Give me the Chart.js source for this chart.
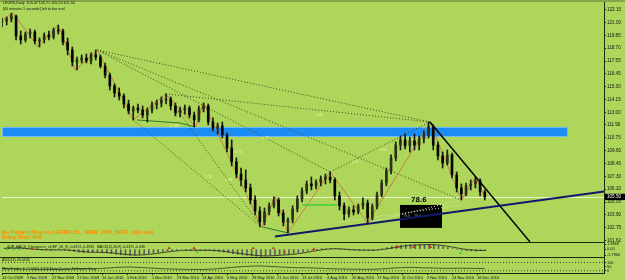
<!DOCTYPE html>
<html><head><meta charset="utf-8">
<script src="https://cdn.jsdelivr.net/npm/chart.js@4.4.1/dist/chart.umd.min.js"></script>
<style>
html,body{margin:0;padding:0;background:#add65a;width:625px;height:280px;overflow:hidden;}
#wrap{position:relative;width:625px;height:280px;overflow:hidden;}
#topbar{position:absolute;left:0;top:0;width:625px;height:2px;background:#86a34c;}
canvas{position:absolute;left:0;}
</style></head><body>
<div id="wrap">
<div id="topbar"></div>
<canvas id="cMain" width="625" height="252" style="top:-4px"></canvas>
<canvas id="cMacd" width="625" height="23" style="top:238px"></canvas>
<canvas id="cAdx" width="625" height="27" style="top:253px"></canvas>
</div>
<script>
// ---------- data ----------
const dateLabels = ['14 Oct 2009','5 Nov 2009','27 Nov 2009','21 Dec 2009','14 Jan 2010','5 Feb 2010','1 Mar 2010','23 Mar 2010','14 Apr 2010','6 May 2010','28 May 2010','21 Jun 2010','13 Jul 2010','4 Aug 2010','26 Aug 2010','17 Sep 2010','11 Oct 2010','2 Nov 2010','24 Nov 2010','16 Dec 2010'];
const dateTickBars = [0,16,32,48,64,80,96,112,128,144,160,176,192,208,224,240,256,272,288,304];
const priceTicks = [101.62,102.75,103.90,105.05,106.20,107.30,108.45,109.60,110.75,111.90,113.00,114.15,115.30,116.45,117.55,118.70,119.85,121.00,122.15];
const priceTickLabels = ['101.62','102.75','103.90','105.05','106.20','107.30','108.45','109.60','110.75','111.90','113.00','114.15','115.30','116.45','117.55','118.70','119.85','121.00','122.15'];
const lastPrice = 105.50;

const candleBar = [0,3,6,9,12,15,18,21,24,27,30,33,36,39,42,45,48,51,54,57,60,63,66,69,72,75,78,81,84,87,90,93,96,99,102,105,108,111,114,117,120,123,126,129,132,135,138,141,144,147,150,153,156,159,162,165,168,171,174,177,180,183,186,189,192,195,198,201,204,207,210,213,216,219,222,225,228,231,234,237,240,243,246,249,252,255,258,261,264,267,270,273,276,279,282,285,288,291,294,297,300,303,306,309];
const openP = [121.03,121.11,121.29,121.56,119.78,119.43,119.96,120.14,119.34,119.43,
119.87,119.69,120.32,120.23,119.25,118.54,117.48,117.65,117.83,117.57,
118.10,117.92,117.12,116.32,115.35,114.73,114.46,113.75,113.13,113.40,
113.22,112.77,113.22,113.66,113.84,114.10,114.19,113.57,112.95,113.22,
113.40,112.77,112.33,113.31,113.57,112.15,111.62,111.80,111.00,109.85,
108.61,107.54,107.01,106.30,105.23,104.26,103.28,104.17,104.71,105.23,
104.08,103.28,103.46,104.43,105.32,106.03,106.65,106.48,106.83,107.10,
107.27,107.01,105.59,104.71,103.99,104.35,104.17,104.71,104.97,103.64,
104.62,105.68,106.74,107.81,108.96,110.11,110.56,110.03,110.47,110.11,
110.65,111.00,111.71,110.11,109.14,108.51,109.23,107.45,106.30,105.77,
106.48,106.65,106.92,105.94];
const highP = [121.38,121.47,121.82,121.65,120.23,120.14,120.40,120.32,119.61,120.05,
120.23,120.49,120.76,120.40,119.61,118.81,117.92,118.10,118.19,118.28,
118.54,118.10,117.39,116.50,115.53,115.17,114.64,114.10,113.57,113.75,
113.57,113.40,113.93,114.10,114.37,114.64,114.37,113.84,113.48,113.66,
113.57,113.04,113.57,113.84,113.75,112.51,112.06,112.15,111.18,110.56,
108.96,108.07,107.90,106.65,105.59,104.62,104.52,104.97,105.50,105.41,
104.35,103.64,104.71,105.59,106.30,106.92,107.27,107.01,107.36,107.54,
107.72,107.19,105.94,104.97,104.62,104.71,104.88,105.41,105.23,104.88,
105.94,107.01,108.07,109.23,110.38,110.91,111.09,110.82,111.09,110.91,
111.36,112.15,111.89,110.38,109.49,109.67,109.40,107.72,106.65,106.74,
107.01,107.27,107.10,106.12];
const lowP = [120.58,120.76,121.03,119.43,119.07,119.25,119.61,119.07,118.81,119.16,
119.43,119.52,119.96,118.99,118.10,117.12,116.77,117.39,117.39,117.30,
117.65,116.94,116.06,114.99,114.37,114.10,113.40,112.86,112.33,112.95,
112.51,112.15,112.95,113.31,113.48,113.75,113.22,112.68,112.60,112.86,
112.51,111.71,112.15,113.04,111.89,111.36,111.09,110.73,109.49,108.25,
107.19,106.48,105.94,104.88,103.90,102.84,103.01,103.90,104.52,103.81,
102.93,102.31,103.19,104.17,105.06,105.77,106.12,106.21,106.48,106.65,
106.74,105.23,104.35,103.46,103.73,103.90,103.99,104.43,103.19,103.46,
104.43,105.50,106.48,107.54,108.70,109.67,109.76,109.49,109.67,109.67,
110.29,110.73,109.67,108.78,108.07,108.34,107.19,105.94,105.23,105.59,
106.12,106.30,105.59,105.23];
const closeP = [121.11,121.29,121.56,119.78,119.43,119.96,120.14,119.34,119.43,119.87,
119.69,120.32,120.23,119.25,118.54,117.48,117.65,117.83,117.57,118.10,
117.92,117.12,116.32,115.35,114.73,114.46,113.75,113.13,113.40,113.22,
112.77,113.22,113.66,113.84,114.10,114.19,113.57,112.95,113.22,113.40,
112.77,112.33,113.31,113.57,112.15,111.62,111.80,111.00,109.85,108.61,
107.54,107.01,106.30,105.23,104.26,103.28,104.17,104.71,105.23,104.08,
103.28,103.46,104.43,105.32,106.03,106.65,106.48,106.83,107.10,107.27,
107.01,105.59,104.71,103.99,104.35,104.17,104.71,104.97,103.64,104.62,
105.68,106.74,107.81,108.96,110.11,110.56,110.03,110.47,110.11,110.65,
111.00,111.71,110.11,109.14,108.51,109.23,107.45,106.30,105.77,106.48,
106.65,106.92,105.94,105.50];

// ZUP zigzag (bar index, price)
const zigBars = [0,7,23,36,47,61,84,105,124,129,166,175,183,210,234,274,294,303,309];
const zigPrices = [121.20,121.82,118.81,120.76,116.77,118.54,112.33,114.64,111.71,113.84,102.84,105.50,102.31,107.72,103.19,112.15,105.23,107.27,105.50];
// pattern lines [bar1, price1, bar2, price2]
const zupLines = [[61,118.54,273.9,112.15],[105,114.64,273.9,112.15],[61,118.54,293.8,105.23],[61,118.54,210,107.72],[210,107.72,273.9,112.15],[84,112.33,166,102.84],[105,114.64,166,102.84]];
const paleLines = [[216.3,103.28,294.4,104.79],[233.6,103.19,293.8,105.23]];
const greenBars = [86.4,113.9,123.5];
const greenPrices = [112.33,112.06,111.71];
const greenLow = [166.4,102.84,183,102.31];
const greenLevel = [192,104.79,214.4,104.79];
const supportLine = [174.7,101.98,385.28,105.98];
const resistLine = [273.9,112.15,337.9,101.51];
const supplyBand = {fromBar:0, toBar:362.2, top:111.71, bottom:110.82};
const retraceBox = {fromBar:254.7, toBar:281.6, top:104.79, bottom:102.75};
const retraceLabel = {text:'78.6', bar:261.8, price:105.23};
const fibText = ['0.786','1.26','0.68','0.74','0.45','0.68','0.81','0.62'];
const fibBar = [107.5,129.9,142.7,149.1,166.4,200.3,224,241.9];
const fibPrice = [111.80,107.27,107.01,109.49,110.73,112.77,108.61,109.67];

// MACD
const macdHist = [0.30,0.40,0.30,0.20,0.10,0.00,-0.10,-0.20,-0.30,-0.30,-0.30,-0.20,-0.20,
-0.35,-0.50,-0.70,-0.90,-1.00,-1.00,-0.95,-0.90,-0.95,-1.10,-1.30,-1.50,-1.65,-1.75,-1.80,-1.75,
-1.60,-1.45,-1.30,-1.10,-0.90,-0.70,-0.50,-0.40,-0.35,-0.30,-0.30,-0.35,-0.40,-0.35,-0.30,
-0.40,-0.55,-0.70,-0.85,-1.05,-1.30,-1.50,-1.70,-1.85,-1.95,-2.05,-2.10,-2.00,-1.90,-1.75,-1.60,-1.55,-1.50,
-1.30,-1.05,-0.80,-0.55,-0.30,-0.10,0.05,0.15,0.20,0.10,-0.05,-0.20,-0.30,-0.35,-0.35,-0.30,-0.35,-0.30,
-0.10,0.15,0.45,0.75,1.00,1.15,1.25,1.30,1.30,1.30,1.30,1.35,1.20,0.95,0.70,0.45,0.15,
-0.15,-0.35,-0.45,-0.50,-0.50,-0.48,-0.44];
const macdSignal = [0.20,0.25,0.30,0.30,0.25,0.15,0.05,-0.05,-0.15,-0.20,-0.25,-0.25,-0.22,
-0.25,-0.30,-0.45,-0.60,-0.75,-0.85,-0.92,-0.93,-0.95,-1.00,-1.10,-1.25,-1.40,-1.55,-1.65,
-1.72,-1.72,-1.65,-1.52,-1.38,-1.20,-1.00,-0.82,-0.65,-0.52,-0.42,-0.35,-0.33,
-0.35,-0.36,-0.35,-0.36,-0.42,-0.52,-0.65,-0.80,-0.98,-1.18,-1.38,-1.55,-1.70,-1.83,-1.93,
-1.98,-1.97,-1.90,-1.80,-1.70,-1.62,-1.50,-1.33,-1.12,-0.90,-0.66,-0.42,-0.22,-0.06,0.06,
0.10,0.07,-0.02,-0.12,-0.22,-0.28,-0.30,-0.32,-0.32,
-0.25,-0.12,0.08,0.30,0.55,0.78,0.95,1.08,1.17,1.23,1.27,1.30,
1.28,1.18,1.02,0.82,0.58,0.32,0.08,-0.10,-0.24,-0.34,-0.40,-0.43];
const macdUpBars = [2,6,10,114,124,293];
const macdUpVals = [0.03,0.03,0.03,-0.26,-0.84,-1.13];
const macdDnBars = [18,106,122,160,173,180,199,253,263,274];
const macdDnVals = [0.03,0.31,0.31,0.31,0.31,-0.84,0.03,0.60,0.60,0.60];
const macdTicks = [-1.796,0,1.3848];
const macdTickLabels = ['-1.7960','0.00','1.3848'];

// ADX
const adxVals = [30,28,26,24,22,20,19,18,17,17,16,16,17,
18,20,23,26,27,27,26,26,28,31,35,39,42,44,45,
44,41,38,35,32,29,26,24,22,20,19,18,17,
17,16,16,18,21,25,30,35,40,45,49,52,55,57,58,
56,53,50,47,44,41,38,37,37,36,34,32,30,28,26,
24,22,21,20,19,19,18,18,18,
20,23,27,31,35,38,40,41,40,38,36,35,
33,31,30,29,30,31,31,30,29,28,27,26];
const adxLevels = [100,0];
const adxTicks = [0,50,100];
const adxTickLabels = ['0','50','100'];

// ---------- helpers ----------
const FONT = 'Liberation Sans';
const AXIS_COL = '#1e2a10';
const X_MIN = 0, X_MAX = 385.28;
function seg(s, color, width, dash, order){
  return {type:'line', data:[{x:s[0],y:s[1]},{x:s[2],y:s[3]}], borderColor:color, borderWidth:width,
    borderDash:dash||[], pointRadius:0, fill:false, tension:0, order:order};
}
function rightAxis(min, max, ticks, labels, size){
  return {type:'linear', position:'right', min:min, max:max,
    afterFit:s=>{s.width=21;},
    afterBuildTicks:s=>{s.ticks=ticks.map(v=>({value:v}));},
    ticks:{autoSkip:false, padding:1, color:'#111', font:{family:FONT, size:size}, callback:(v,i)=>labels[i]},
    grid:{drawOnChartArea:false, tickLength:2, color:AXIS_COL},
    border:{display:true, color:AXIS_COL, width:1}};
}
const hiddenX = {type:'linear', min:X_MIN, max:X_MAX, display:false, offset:false};
const baseOpts = {responsive:false, animation:false, devicePixelRatio:1, events:[],
  plugins:{legend:{display:false}, tooltip:{enabled:false}}};

// ---------- main pane ----------
const mainDecor = {
  id:'mainDecor',
  beforeDatasetsDraw(chart){
    const {ctx, chartArea:a, scales:{x, y}} = chart;
    ctx.save();
    ctx.beginPath(); ctx.rect(a.left, a.top, a.right-a.left, a.bottom-a.top); ctx.clip();
    const bx0 = x.getPixelForValue(supplyBand.fromBar), bx1 = x.getPixelForValue(supplyBand.toBar);
    const by0 = y.getPixelForValue(supplyBand.top), by1 = y.getPixelForValue(supplyBand.bottom);
    ctx.fillStyle = '#1c8cf5'; ctx.fillRect(bx0, by0, bx1-bx0, by1-by0);
    ctx.strokeStyle = '#72bcf6'; ctx.lineWidth = 1;
    ctx.strokeRect(bx0+0.5, by0+0.5, bx1-bx0-1, by1-by0-1);
    const yb = Math.round(y.getPixelForValue(lastPrice))+0.5;
    ctx.strokeStyle = '#e4f2cc'; ctx.beginPath(); ctx.moveTo(a.left, yb); ctx.lineTo(a.right, yb); ctx.stroke();
    const rx0 = x.getPixelForValue(retraceBox.fromBar), rx1 = x.getPixelForValue(retraceBox.toBar);
    const ry0 = y.getPixelForValue(retraceBox.top), ry1 = y.getPixelForValue(retraceBox.bottom);
    ctx.fillStyle = '#000'; ctx.fillRect(rx0, ry0, rx1-rx0, ry1-ry0);
    ctx.fillStyle = '#8c8c8c'; ctx.font = '3.6px "'+FONT+'"'; ctx.textBaseline = 'middle';
    ctx.fillText('78.6    78.6', rx0+3, (ry0+ry1)/2);
    ctx.restore();
  },
  afterDatasetsDraw(chart){
    const {ctx, chartArea:a, scales:{x, y}} = chart;
    ctx.save();
    ctx.textBaseline = 'middle'; ctx.textAlign = 'left';
    ctx.fillStyle = '#eef59a'; ctx.font = '3.6px "'+FONT+'"';
    fibText.forEach((t,i)=>ctx.fillText(t, x.getPixelForValue(fibBar[i]), y.getPixelForValue(fibPrice[i])));
    ctx.fillStyle = '#000'; ctx.font = 'bold 8px "'+FONT+'"';
    ctx.fillText(retraceLabel.text, x.getPixelForValue(retraceLabel.bar), y.getPixelForValue(retraceLabel.price));
    ctx.fillStyle = '#111'; ctx.font = '3.7px "'+FONT+'"';
    ctx.fillText('LEURX,Daily  105.47 105.71 105.23 105.50', a.left+1, a.top+1);
    ctx.fillText('[00 minutes 1 seconds] left to bar end', a.left+1, a.top+6.5);
    ctx.fillStyle = '#ff8a00'; ctx.font = 'bold 5.5px "'+FONT+'"';
    ctx.fillText('No Pattern Now on LEURX D1,  WRR_ZUP_INFO_v02.mq4', a.left, a.top+230.7);
    ctx.fillText('Entry Risk: N/R', a.left, a.top+235.7);
    ctx.restore();
  },
  afterDraw(chart){
    const {ctx, chartArea:a, scales:{y}} = chart;
    const yp = y.getPixelForValue(lastPrice);
    ctx.save();
    ctx.fillStyle = '#000'; ctx.fillRect(a.right+1, yp-3.2, 20, 6.4);
    ctx.fillStyle = '#fff'; ctx.font = '4.6px "'+FONT+'"'; ctx.textBaseline='middle'; ctx.textAlign='left';
    ctx.fillText('105.50', a.right+3, yp);
    ctx.restore();
  }
};

const mainSets = [
  seg(supportLine, '#101a6a', 2, [], 0),
  seg(resistLine, '#000000', 1.5, [], 0),
  {type:'bar', grouped:false, barThickness:2, order:1, borderWidth:0,
   data:candleBar.map((t,i)=>({x:t, y:[openP[i], closeP[i]]})),
   backgroundColor:c=>closeP[c.dataIndex]>=openP[c.dataIndex]?'#2b3018':'#050505'},
  {type:'bar', grouped:false, barThickness:1, order:2, borderWidth:0,
   data:candleBar.map((t,i)=>({x:t, y:[lowP[i], highP[i]]})), backgroundColor:'#1a1a1a'},
  {type:'line', order:3, data:zigBars.map((t,i)=>({x:t, y:zigPrices[i]})), borderColor:'#cc7f3f', borderWidth:1, pointRadius:0, tension:0, fill:false},
  {type:'line', order:3, data:greenBars.map((t,i)=>({x:t, y:greenPrices[i]})), borderColor:'#2d7a2d', borderWidth:1, pointRadius:0, tension:0, fill:false},
  seg(greenLow, '#2d7a2d', 1, [], 3),
  seg(greenLevel, '#3fcf3f', 1.5, [], 3)
].concat(zupLines.map(s=>seg(s, '#3d4a25', 1, [1,2], 4)))
 .concat(paleLines.map(s=>seg(s, '#e2efc2', 1, [1,2], 4)));

new Chart(document.getElementById('cMain'), {
  type:'bar', data:{datasets:mainSets},
  options:Object.assign({}, baseOpts, {
    layout:{padding:{left:2, right:0, top:6, bottom:6}},
    scales:{x:hiddenX, y:rightAxis(101.50, 122.80, priceTicks, priceTickLabels, 4.6)}
  }),
  plugins:[mainDecor]
});

// ---------- MACD pane ----------
const paneDecor = (lines) => ({
  id:'paneDecor',
  afterDraw(chart){
    const {ctx, chartArea:a} = chart;
    ctx.save();
    ctx.strokeStyle = AXIS_COL; ctx.lineWidth = 1;
    ctx.beginPath(); ctx.moveTo(0, Math.round(a.top)+0.5); ctx.lineTo(a.right, Math.round(a.top)+0.5); ctx.stroke();
    ctx.fillStyle = '#111'; ctx.textBaseline = 'middle'; ctx.textAlign = 'left';
    lines.forEach(l=>{ ctx.font = l.size+'px "'+FONT+'"'; ctx.fillText(l.text, a.left+l.dx, a.top+l.dy); });
    ctx.restore();
  }
});

new Chart(document.getElementById('cMacd'), {
  type:'bar',
  data:{datasets:[
    {type:'line', order:0, showLine:false, data:macdDnBars.map((t,i)=>({x:t,y:macdDnVals[i]})), pointStyle:'triangle', pointRadius:1.8, pointBackgroundColor:'#d8301c', pointBorderWidth:0},
    {type:'line', order:0, showLine:false, data:macdUpBars.map((t,i)=>({x:t,y:macdUpVals[i]})), pointStyle:'triangle', pointRadius:1.6, pointBackgroundColor:'#2fbf2f', pointBorderWidth:0},
    {type:'line', order:1, data:candleBar.map((t,i)=>({x:t,y:macdSignal[i]})), borderColor:'#222', borderWidth:0.8, pointRadius:0, tension:0, fill:false},
    {type:'bar', order:2, grouped:false, barThickness:1, borderWidth:0, data:candleBar.map((t,i)=>({x:t,y:macdHist[i]})), backgroundColor:'#5c5c5c'}
  ]},
  options:Object.assign({}, baseOpts, {
    layout:{padding:{left:2, right:0, top:4, bottom:4}},
    scales:{x:hiddenX, y:rightAxis(-2.29, 2.05, macdTicks, macdTickLabels, 3.9)}
  }),
  plugins:[paneDecor([{text:'ZUP_MACD_Divergence_v1(EP_26_9) -0.4374 -0.4335   MACD(12,26,9) -0.4371 -0.436', size:3.5, dx:3, dy:4.7}])]
});

// ---------- ADX pane ----------
new Chart(document.getElementById('cAdx'), {
  type:'line',
  data:{datasets:[
    {data:candleBar.map((t,i)=>({x:t,y:adxVals[i]})), borderColor:'#2c3a20', borderWidth:0.8, pointRadius:0, tension:0, fill:false},
  ].concat(adxLevels.map(v=>seg([X_MIN, v, X_MAX, v], '#3a4a28', 1, [1,2], 1)))},
  options:Object.assign({}, baseOpts, {
    layout:{padding:{left:2, right:0, top:4, bottom:0}},
    scales:{
      x:{type:'linear', min:X_MIN, max:X_MAX, offset:false,
        afterFit:s=>{s.height=7;},
        afterBuildTicks:s=>{s.ticks=dateTickBars.map(v=>({value:v}));},
        ticks:{autoSkip:false, maxRotation:0, minRotation:0, align:'start', padding:0.5, color:'#111', font:{family:FONT, size:3.9}, callback:(v,i)=>dateLabels[i]},
        grid:{drawOnChartArea:false, tickLength:2, color:AXIS_COL},
        border:{display:true, color:AXIS_COL, width:1}},
      y:rightAxis(-26.5, 166, adxTicks, adxTickLabels, 3.9)
    }
  }),
  plugins:[paneDecor([{text:'ADX(14) 26.0165', size:3.6, dx:0, dy:2.8},{text:'MetaTrader 4, \u00A9 2001-2009 MetaQuotes Software Corp.', size:3.8, dx:0, dy:11.5}])]
});
</script>
</body></html>
